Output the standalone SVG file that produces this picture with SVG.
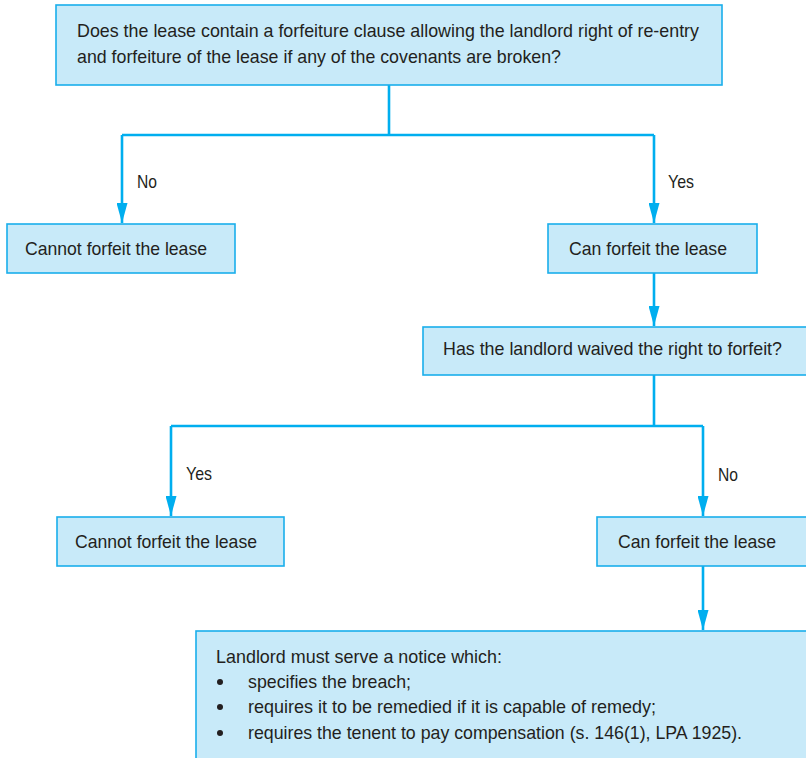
<svg xmlns="http://www.w3.org/2000/svg" width="806" height="758" viewBox="0 0 806 758">
  <style>
    .box { fill: #C8EAF9; stroke: #19AEEB; stroke-width: 1.6; }
    .txt { font-family: "Liberation Sans", Arial, Helvetica, sans-serif; font-size: 19px; fill: #231F20; }
    .lbl { font-family: "Liberation Sans", Arial, Helvetica, sans-serif; font-size: 19px; fill: #231F20; }
    .conn { fill: none; stroke: #00AEEF; stroke-width: 2.6; }
  </style>
  <defs>
    <marker id="arrow" viewBox="0 0 20 11" refX="20" refY="5.5" markerWidth="20" markerHeight="11" markerUnits="userSpaceOnUse" orient="auto">
      <path d="M0,0 L20,5.5 L0,11 Z" fill="#00AEEF"/>
    </marker>
  </defs>

  <rect width="806" height="758" fill="#FFFFFF"/>

  <!-- connectors -->
  <g id="connectors">
    <path class="conn" d="M389,85 V135"/>
    <path class="conn" d="M122,135 H654"/>
    <path class="conn" d="M122,135 V223" marker-end="url(#arrow)"/>
    <path class="conn" d="M654,135 V223" marker-end="url(#arrow)"/>
    <path class="conn" d="M654,273 V326" marker-end="url(#arrow)"/>
    <path class="conn" d="M654,375 V426"/>
    <path class="conn" d="M171,426 H703"/>
    <path class="conn" d="M171,426 V516" marker-end="url(#arrow)"/>
    <path class="conn" d="M703,426 V516" marker-end="url(#arrow)"/>
    <path class="conn" d="M703,566 V630" marker-end="url(#arrow)"/>
    <text class="lbl" x="137" y="188" textLength="20" lengthAdjust="spacingAndGlyphs">No</text>
    <text class="lbl" x="668" y="188" textLength="26" lengthAdjust="spacingAndGlyphs">Yes</text>
    <text class="lbl" x="186" y="480" textLength="26" lengthAdjust="spacingAndGlyphs">Yes</text>
    <text class="lbl" x="718" y="481" textLength="20" lengthAdjust="spacingAndGlyphs">No</text>
  </g>

  <!-- question: forfeiture clause -->
  <g id="q-clause">
    <rect class="box" x="56" y="5" width="666" height="80"/>
    <text class="txt" x="77" y="37" textLength="622" lengthAdjust="spacingAndGlyphs">Does the lease contain a forfeiture clause allowing the landlord right of re-entry</text>
    <text class="txt" x="77" y="63" textLength="484" lengthAdjust="spacingAndGlyphs">and forfeiture of the lease if any of the covenants are broken?</text>
  </g>

  <g id="no-clause">
    <rect class="box" x="7" y="224" width="228" height="49"/>
    <text class="txt" x="25" y="255" textLength="182" lengthAdjust="spacingAndGlyphs">Cannot forfeit the lease</text>
  </g>

  <g id="has-clause">
    <rect class="box" x="548" y="224" width="209" height="49"/>
    <text class="txt" x="569" y="255" textLength="158" lengthAdjust="spacingAndGlyphs">Can forfeit the lease</text>
  </g>

  <!-- question: waiver -->
  <g id="q-waiver">
    <rect class="box" x="423" y="327" width="390" height="48"/>
    <text class="txt" x="443" y="355" textLength="339" lengthAdjust="spacingAndGlyphs">Has the landlord waived the right to forfeit?</text>
  </g>

  <g id="waived">
    <rect class="box" x="57" y="517" width="227" height="49"/>
    <text class="txt" x="75" y="548" textLength="182" lengthAdjust="spacingAndGlyphs">Cannot forfeit the lease</text>
  </g>

  <g id="not-waived">
    <rect class="box" x="597" y="517" width="216" height="49"/>
    <text class="txt" x="618" y="548" textLength="158" lengthAdjust="spacingAndGlyphs">Can forfeit the lease</text>
  </g>

  <!-- notice requirements -->
  <g id="notice">
    <rect class="box" x="196" y="631" width="620" height="140"/>
    <text class="txt" x="216" y="663" textLength="286" lengthAdjust="spacingAndGlyphs">Landlord must serve a notice which:</text>
    <circle cx="220" cy="682" r="3" fill="#231F20"/>
    <text class="txt" x="248" y="688" textLength="163" lengthAdjust="spacingAndGlyphs">specifies the breach;</text>
    <circle cx="220" cy="707" r="3" fill="#231F20"/>
    <text class="txt" x="248" y="713" textLength="408" lengthAdjust="spacingAndGlyphs">requires it to be remedied if it is capable of remedy;</text>
    <circle cx="220" cy="733" r="3" fill="#231F20"/>
    <text class="txt" x="248" y="739" textLength="494" lengthAdjust="spacingAndGlyphs">requires the tenent to pay compensation (s. 146(1), LPA 1925).</text>
  </g>
</svg>
